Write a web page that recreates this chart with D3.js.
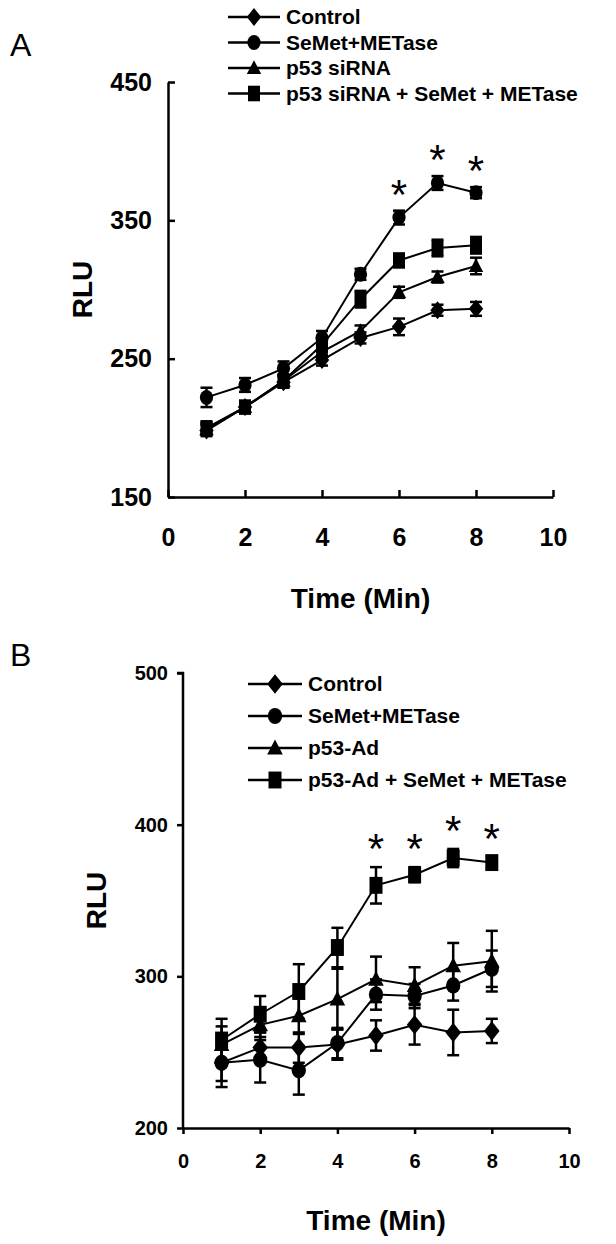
<!DOCTYPE html>
<html>
<head>
<meta charset="utf-8">
<script src="https://cdn.jsdelivr.net/npm/d3@7"></script>
<style>
  body { margin: 0; background: #fff; }
  svg { display: block; font-family: "Liberation Sans Narrow", "Liberation Sans", Arial, sans-serif; }
</style>
</head>
<body>
<svg id="chart" width="616" height="1244"></svg>
<script>
const times = [1, 2, 3, 4, 5, 6, 7, 8];
const xTicks = [0, 2, 4, 6, 8, 10];

// Panel A
const namesA = ['Control', 'SeMet+METase', 'p53 siRNA', 'p53 siRNA + SeMet + METase'];
const controlA = [198, 215, 233, 249, 265, 273, 285, 286];
const semetA = [222, 231, 243, 265, 311, 352, 377, 370];
const sirnaA = [199, 215, 234, 255, 270, 298, 309, 317];
const comboA = [200, 215, 234, 260, 293, 321, 330, 332];
const errControlA = [4, 4, 4, 4, 4, 6, 4, 5];
const errSemetA = [7, 5, 5, 5, 4, 5, 5, 4];
const errSirnaA = [4, 4, 4, 4, 4, 4, 4, 6];
const errComboA = [4, 4, 4, 5, 6, 5, 6, 6];
const yTicksA = [150, 250, 350, 450];
const starsA = [6, 7, 8];

// Panel B
const namesB = ['Control', 'SeMet+METase', 'p53-Ad', 'p53-Ad + SeMet + METase'];
const controlB = [243, 253, 253, 255, 261, 268, 263, 264];
const semetB = [243, 245, 238, 256, 288, 287, 294, 305];
const adB = [255, 268, 274, 285, 298, 294, 307, 310];
const comboB = [258, 275, 290, 319, 360, 367, 378, 375];
const errControlB = [12, 10, 10, 10, 10, 13, 15, 8];
const errSemetB = [16, 15, 16, 10, 10, 8, 10, 12];
const errAdB = [12, 10, 12, 20, 15, 12, 15, 20];
const errComboB = [14, 12, 18, 13, 12, 5, 6, 4];
const yTicksB = [200, 300, 400, 500];
const starsB = [5, 6, 7, 8];

const shapes = ['diamond', 'circle', 'triangle', 'square'];

const svg = d3.select('#chart');

function marker(g, shape, x, y, s) {
    if (shape === 'diamond') {
        g.append('path').attr('d', `M${x},${y - s * 0.75}L${x + s * 0.6},${y}L${x},${y + s * 0.75}L${x - s * 0.6},${y}Z`).attr('fill', '#000');
    } else if (shape === 'circle') {
        g.append('ellipse').attr('cx', x).attr('cy', y).attr('rx', s * 0.55).attr('ry', s * 0.62).attr('fill', '#000');
    } else if (shape === 'triangle') {
        g.append('path').attr('d', `M${x},${y - s * 0.65}L${x + s * 0.6},${y + s * 0.5}L${x - s * 0.6},${y + s * 0.5}Z`).attr('fill', '#000');
    } else {
        g.append('rect').attr('x', x - s * 0.5).attr('y', y - s * 0.65).attr('width', s).attr('height', s * 1.3).attr('fill', '#000');
    }
}

function drawPanel(p) {
    const x = d3.scaleLinear().domain([0, 10]).range([p.left, p.right]);
    const y = d3.scaleLinear().domain([p.yTicks[0], p.yTicks[p.yTicks.length - 1]]).range([p.bottom, p.top]);

    // axes
    const yAxis = svg.append('g')
        .attr('transform', `translate(${p.left},0)`)
        .call(d3.axisLeft(y).tickValues(p.yTicks).tickSizeOuter(0).tickSizeInner(p.tickSize).tickPadding(p.tickPad));
    const xAxis = svg.append('g')
        .attr('transform', `translate(0,${p.bottom})`)
        .call(d3.axisBottom(x).tickValues(xTicks).tickSizeOuter(0).tickSizeInner(p.tickSize).tickPadding(p.xTickPad));
    [xAxis, yAxis].forEach(a => {
        a.select('.domain').attr('stroke', '#000').attr('stroke-width', 2.5);
        a.selectAll('.tick line').attr('stroke', '#000').attr('stroke-width', 2.5);
        a.selectAll('.tick text').attr('fill', '#000').attr('font-weight', 'bold')
            .attr('font-size', p.tickFont).attr('font-family', 'Liberation Sans, Arial, sans-serif');
    });
    if (p.yDomainPath) {
        yAxis.select('.domain').attr('d', `M-6,${y(p.yTicks[p.yTicks.length - 1])}H0V${p.bottom}`);
    }

    // series
    p.series.forEach((s, i) => {
        const g = svg.append('g');
        const line = d3.line().x((d, j) => x(times[j])).y(d => y(d));
        g.append('path').datum(s.values).attr('d', line)
            .attr('fill', 'none').attr('stroke', '#000').attr('stroke-width', 2);
        s.values.forEach((v, j) => {
            const cx = x(times[j]);
            const e = s.err[j];
            g.append('line').attr('x1', cx).attr('x2', cx).attr('y1', y(v - e)).attr('y2', y(v + e))
                .attr('stroke', '#000').attr('stroke-width', 2.5);
            [v - e, v + e].forEach(t => {
                g.append('line').attr('x1', cx - 6).attr('x2', cx + 6).attr('y1', y(t)).attr('y2', y(t))
                    .attr('stroke', '#000').attr('stroke-width', 2.5);
            });
            marker(g, shapes[i], cx, y(v), p.markerSize);
        });
    });

    // stars
    p.stars.forEach(t => {
        const top = p.starSeries.values[t - 1] + p.starSeries.err[t - 1];
        svg.append('text').attr('x', x(t)).attr('y', y(top) - p.starGap)
            .attr('text-anchor', 'middle').attr('font-size', 42)
            .attr('font-family', 'Liberation Sans, Arial, sans-serif').text('*');
    });

    // legend
    p.names.forEach((n, i) => {
        const ly = p.legY + i * p.legStep;
        const g = svg.append('g');
        g.append('line').attr('x1', p.legX).attr('x2', p.legX + p.legLen).attr('y1', ly).attr('y2', ly)
            .attr('stroke', '#000').attr('stroke-width', 2.5);
        marker(g, shapes[i], p.legX + p.legLen / 2, ly, p.markerSize);
        g.append('text').attr('x', p.legX + p.legLen + 6).attr('y', ly + 7)
            .attr('font-size', p.legFont).attr('font-weight', 'bold').text(n);
    });

    // axis titles
    svg.append('text')
        .attr('transform', `translate(${p.rluX},${(p.top + p.bottom) / 2}) rotate(-90)`)
        .attr('text-anchor', 'middle').attr('font-size', 28).attr('font-weight', 'bold')
        .attr('font-family', 'Liberation Sans, Arial, sans-serif').text('RLU');
    svg.append('text').attr('x', (p.left + p.right) / 2).attr('y', p.timeY)
        .attr('text-anchor', 'middle').attr('font-size', 28).attr('font-weight', 'bold').text('Time (Min)');

    // panel letter
    svg.append('text').attr('x', 10).attr('y', p.letterY)
        .attr('font-size', 32).attr('font-family', 'Liberation Sans, Arial, sans-serif').text(p.letter);
}

drawPanel({
    letter: 'A', letterY: 56,
    left: 168, right: 553, top: 82, bottom: 497,
    yTicks: yTicksA, tickFont: 25, tickSize: -7, tickPad: 16, xTickPad: 31,
    markerSize: 12,
    names: namesA, legX: 228, legY: 17, legStep: 25.5, legLen: 52, legFont: 21,
    rluX: 92, timeY: 608,
    series: [
        { values: controlA, err: errControlA },
        { values: semetA, err: errSemetA },
        { values: sirnaA, err: errSirnaA },
        { values: comboA, err: errComboA }
    ],
    stars: starsA, starGap: 2,
    starSeries: { values: semetA, err: errSemetA }
});

drawPanel({
    letter: 'B', letterY: 666,
    left: 183, right: 569, top: 673, bottom: 1128,
    yTicks: yTicksB, tickFont: 20, tickSize: 6, tickPad: 9, xTickPad: 20,
    yDomainPath: true,
    markerSize: 13,
    names: namesB, legX: 248, legY: 684, legStep: 32, legLen: 54, legFont: 21,
    rluX: 106, timeY: 1230,
    series: [
        { values: controlB, err: errControlB },
        { values: semetB, err: errSemetB },
        { values: adB, err: errAdB },
        { values: comboB, err: errComboB }
    ],
    stars: starsB, starGap: 4,
    starSeries: { values: comboB, err: errComboB }
});
</script>
</body>
</html>
